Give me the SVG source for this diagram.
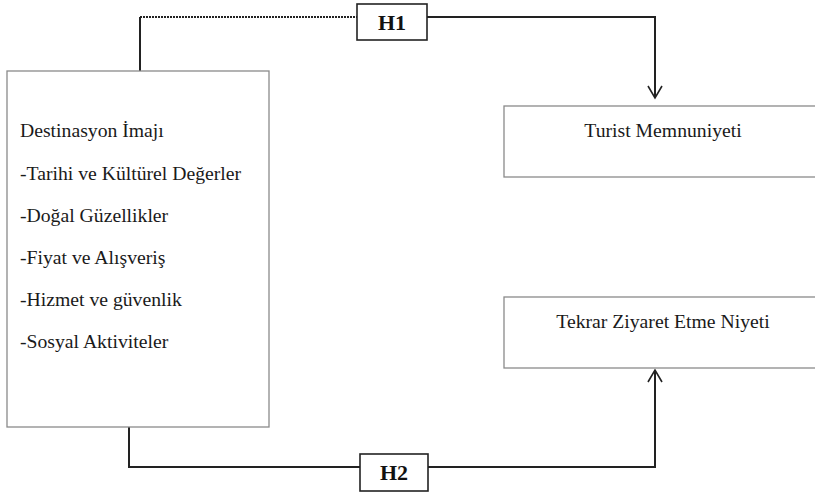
<svg xmlns="http://www.w3.org/2000/svg" width="815" height="497" viewBox="0 0 815 497">
<style>
.box{fill:#fff;stroke:#8a8a8a;stroke-width:1.3}
.hbox{fill:#fff;stroke:#222;stroke-width:1.6}
.t{font-size:19.7px;fill:#1a1a1a}
.h{font-size:22px;font-weight:bold;fill:#111;text-anchor:middle}
.c{fill:none;stroke:#222;stroke-width:2}
.arr{fill:none;stroke:#222;stroke-width:1.6}
</style>
<rect width="815" height="497" fill="#fff"/>
<g id="connectors">
<path class="c" d="M140,71 V17"/>
<path class="c" d="M140,17 H357" stroke-dasharray="2,1"/>
<path class="c" d="M427,17 H655 V98"/>
<path class="arr" d="M648,86 L655,98 L662,86"/>
<path class="c" d="M129,426 V467 H360"/>
<path class="c" d="M428,467 H655 V370"/>
<path class="arr" d="M648,382 L655,370 L662,382"/>
</g>
<g font-family="Liberation Serif, DejaVu Serif, serif">
<g id="destinasyon">
<rect class="box" x="7" y="71" width="262" height="356"/>
<text class="t" x="20" y="137">Destinasyon İmajı</text>
<text class="t" x="20" y="180">-Tarihi ve Kültürel Değerler</text>
<text class="t" x="20" y="222">-Doğal Güzellikler</text>
<text class="t" x="20" y="264">-Fiyat ve Alışveriş</text>
<text class="t" x="20" y="306">-Hizmet ve güvenlik</text>
<text class="t" x="20" y="348">-Sosyal Aktiviteler</text>
</g>
<g id="h1">
<rect class="hbox" x="357" y="4" width="70" height="36"/>
<text class="h" x="392" y="30">H1</text>
</g>
<g id="h2">
<rect class="hbox" x="360" y="454" width="68" height="37"/>
<text class="h" x="394" y="480">H2</text>
</g>
<g id="turist">
<rect class="box" x="504" y="106" width="320" height="71"/>
<text class="t" x="663" y="137" text-anchor="middle">Turist Memnuniyeti</text>
</g>
<g id="tekrar">
<rect class="box" x="504" y="297" width="320" height="71"/>
<text class="t" x="663" y="328" text-anchor="middle">Tekrar Ziyaret Etme Niyeti</text>
</g>
</g>
</svg>
